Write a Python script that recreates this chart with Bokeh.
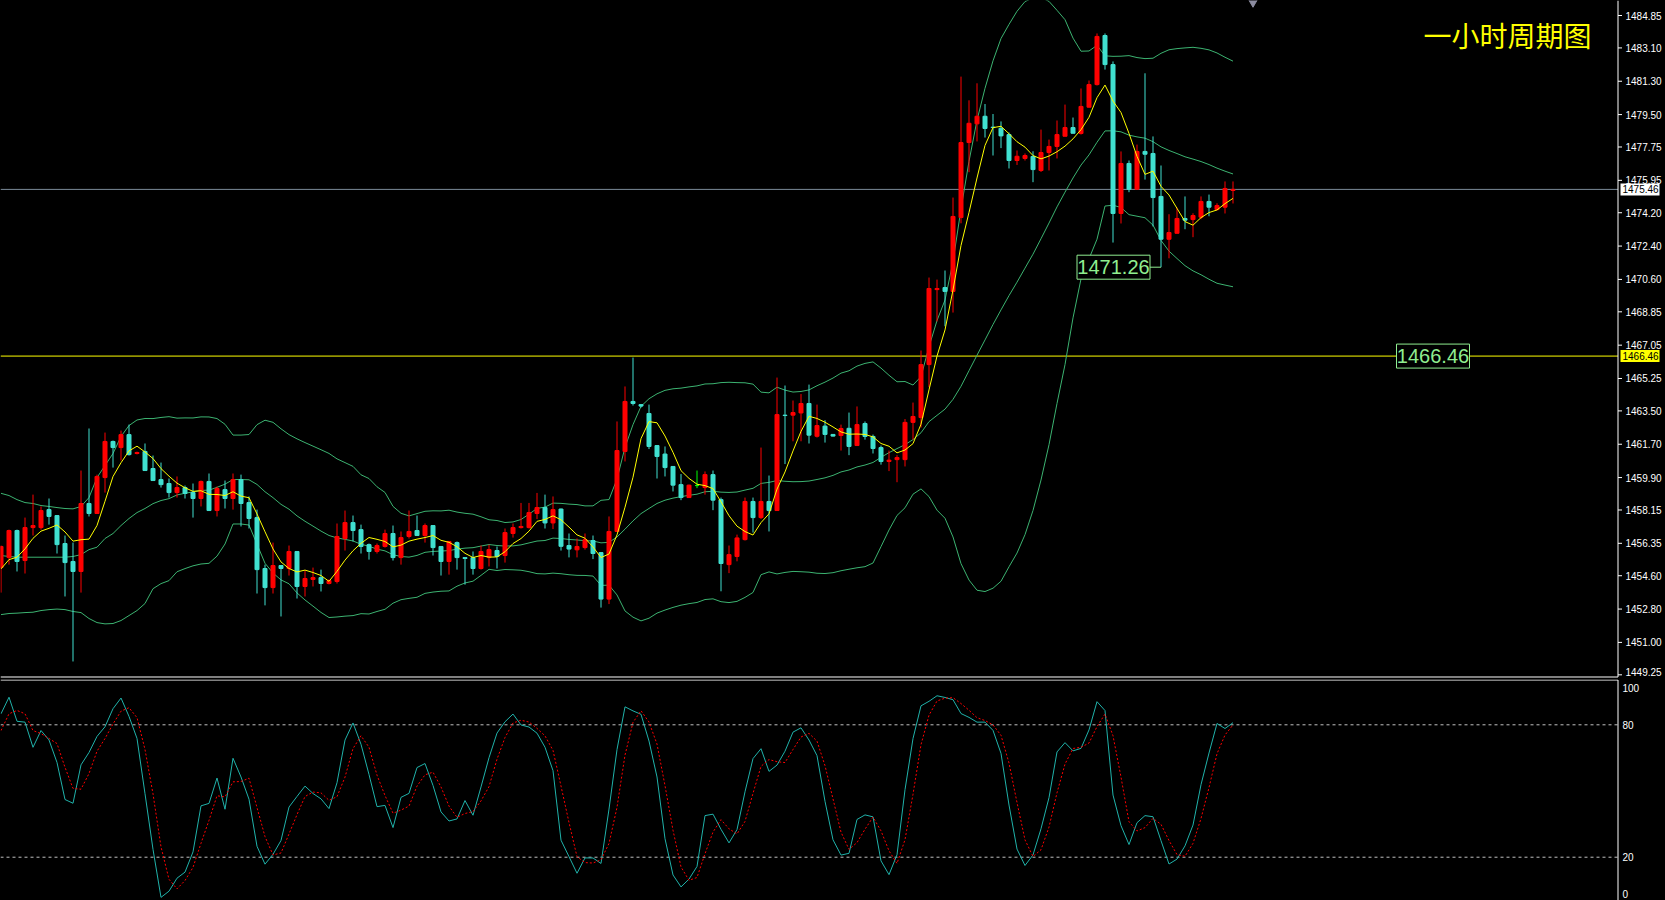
import numpy as np
import pandas as pd
from bokeh.plotting import figure
from bokeh.models import Range1d, Label
from bokeh.layouts import column
from bokeh.embed import file_html
from bokeh.resources import INLINE
from bokeh.core.properties import value

# ---------------- data ----------------
opens = [1455.04, 1455.58, 1457.04, 1455.42, 1457.20, 1457.20, 1458.17, 1457.85, 1456.34, 1455.37,
         1454.83, 1458.50, 1457.96, 1459.90, 1461.85, 1461.52, 1462.22, 1461.20, 1461.31, 1460.39,
         1459.79, 1459.58, 1459.09, 1459.36, 1459.09, 1458.77, 1459.69, 1458.12, 1459.25, 1458.77,
         1459.79, 1458.55, 1457.74, 1454.99, 1453.96, 1455.15, 1454.99, 1455.91, 1454.02, 1454.40,
         1454.50, 1454.18, 1454.29, 1456.61, 1457.47, 1457.09, 1456.28, 1455.91, 1456.18, 1456.88,
         1455.58, 1456.72, 1457.04, 1456.77, 1457.31, 1456.18, 1455.37, 1456.39, 1455.58, 1455.58,
         1454.99, 1455.58, 1455.96, 1455.69, 1456.88, 1457.20, 1457.20, 1457.96, 1458.28, 1457.45,
         1458.20, 1456.23, 1456.00, 1456.12, 1456.50, 1455.85, 1453.34, 1456.99, 1461.31, 1464.01,
         1463.84, 1463.36, 1461.63, 1461.17, 1460.50, 1459.52, 1458.82, 1459.47, 1459.36, 1460.06,
         1458.71, 1455.20, 1455.64, 1456.55, 1458.61, 1457.74, 1458.61, 1458.12, 1463.27, 1463.27,
         1463.39, 1463.90, 1462.13, 1462.68, 1462.23, 1462.17, 1462.56, 1461.63, 1462.82, 1462.12,
         1461.52, 1460.77, 1460.87, 1460.87, 1462.88, 1463.14, 1466.00, 1470.05, 1470.16, 1469.95,
         1473.94, 1477.99, 1479.00, 1479.41, 1478.82, 1478.76, 1478.42, 1477.02, 1477.13, 1477.24,
         1476.48, 1477.45, 1477.78, 1478.33, 1478.80, 1478.48, 1479.90, 1481.12, 1483.77, 1482.20,
         1474.16, 1476.86, 1475.47, 1477.51, 1477.40, 1475.08, 1472.77, 1473.09, 1473.89, 1473.83,
         1473.96, 1474.81, 1474.37, 1474.50, 1475.40]
highs = [1456.23, 1457.09, 1457.09, 1457.74, 1458.98, 1458.34, 1458.77, 1457.85, 1456.77, 1456.39,
         1460.28, 1462.55, 1460.06, 1462.33, 1461.90, 1462.44, 1462.76, 1461.30, 1461.74, 1461.09,
         1460.71, 1459.85, 1459.96, 1459.47, 1459.58, 1459.74, 1460.12, 1459.42, 1459.74, 1460.12,
         1460.06, 1458.88, 1458.17, 1455.20, 1456.39, 1455.15, 1456.23, 1455.91, 1454.88, 1455.04,
         1454.93, 1454.40, 1457.42, 1458.12, 1457.85, 1457.36, 1456.34, 1456.34, 1457.09, 1457.31,
         1456.99, 1458.12, 1457.85, 1457.42, 1457.31, 1456.18, 1456.45, 1456.45, 1455.58, 1455.91,
         1456.23, 1456.28, 1456.18, 1457.15, 1457.42, 1458.53, 1458.53, 1459.07, 1458.98, 1458.88,
         1458.23, 1456.88, 1456.61, 1456.88, 1456.77, 1455.85, 1457.80, 1462.93, 1464.82, 1466.38,
         1463.84, 1463.84, 1461.63, 1461.58, 1460.50, 1460.09, 1459.52, 1460.28, 1460.23, 1460.28,
         1458.82, 1456.23, 1456.82, 1458.82, 1458.82, 1461.52, 1460.01, 1465.30, 1464.87, 1464.06,
         1464.41, 1464.92, 1463.84, 1463.00, 1462.25, 1462.76, 1463.41, 1463.74, 1462.93, 1462.22,
         1461.63, 1461.36, 1461.11, 1463.06, 1463.95, 1466.76, 1470.70, 1470.59, 1471.08, 1475.02,
         1481.55, 1480.27, 1481.19, 1480.07, 1479.53, 1479.13, 1478.53, 1477.56, 1477.40, 1477.52,
         1478.69, 1478.15, 1479.18, 1480.04, 1479.34, 1480.91, 1481.34, 1483.88, 1483.88, 1482.37,
         1477.51, 1477.02, 1477.88, 1481.73, 1478.32, 1476.75, 1474.12, 1474.48, 1475.08, 1474.17,
         1475.08, 1475.18, 1474.71, 1475.89, 1475.89]
lows = [1453.69, 1455.20, 1454.83, 1454.72, 1456.77, 1457.09, 1457.36, 1455.80, 1453.48, 1449.97,
        1453.69, 1457.80, 1457.96, 1459.09, 1460.44, 1460.82, 1461.09, 1461.15, 1460.28, 1459.74,
        1459.36, 1458.82, 1458.82, 1458.77, 1457.74, 1458.34, 1458.12, 1457.80, 1458.23, 1458.17,
        1457.26, 1457.15, 1453.64, 1453.00, 1453.64, 1452.40, 1454.61, 1453.37, 1453.48, 1454.02,
        1453.75, 1454.13, 1454.18, 1455.96, 1456.45, 1455.80, 1455.47, 1455.80, 1456.12, 1455.42,
        1455.20, 1456.61, 1456.77, 1456.39, 1455.69, 1454.61, 1454.66, 1454.93, 1454.12, 1454.66,
        1454.93, 1455.10, 1454.99, 1455.31, 1456.66, 1457.15, 1457.15, 1457.66, 1457.15, 1457.12,
        1455.96, 1455.59, 1455.59, 1456.01, 1455.50, 1452.88, 1453.07, 1456.99, 1460.77, 1463.79,
        1463.68, 1461.44, 1459.85, 1459.96, 1459.15, 1458.68, 1458.82, 1459.33, 1458.98, 1458.14,
        1453.76, 1454.74, 1455.38, 1456.50, 1456.93, 1457.66, 1456.99, 1458.12, 1460.63, 1461.86,
        1461.86, 1461.74, 1462.06, 1461.79, 1462.12, 1461.36, 1461.11, 1461.63, 1461.95, 1461.20,
        1460.60, 1460.25, 1459.65, 1460.50, 1461.95, 1462.60, 1464.78, 1468.33, 1468.07, 1468.81,
        1473.63, 1476.39, 1478.05, 1478.26, 1477.29, 1477.69, 1476.59, 1476.78, 1477.02, 1475.85,
        1476.40, 1476.48, 1477.13, 1478.33, 1478.49, 1478.42, 1479.88, 1481.07, 1481.93, 1472.59,
        1473.62, 1475.31, 1475.47, 1475.99, 1473.46, 1471.26, 1471.74, 1473.08, 1473.31, 1472.88,
        1473.85, 1474.01, 1474.32, 1474.16, 1474.70]
closes = [1456.18, 1457.04, 1455.37, 1457.20, 1457.31, 1458.12, 1457.80, 1456.28, 1455.31, 1454.83,
          1458.50, 1457.96, 1459.96, 1461.85, 1461.52, 1462.22, 1461.14, 1461.25, 1460.28, 1459.74,
          1459.52, 1459.09, 1459.36, 1459.04, 1458.77, 1459.69, 1458.12, 1459.31, 1458.77, 1459.79,
          1458.50, 1457.69, 1454.93, 1453.96, 1455.15, 1454.99, 1455.91, 1454.02, 1454.45, 1454.50,
          1454.18, 1454.34, 1456.72, 1457.47, 1457.04, 1456.18, 1455.91, 1456.23, 1456.88, 1455.58,
          1456.66, 1456.99, 1456.77, 1457.31, 1456.12, 1455.37, 1456.45, 1455.58, 1455.53, 1454.99,
          1455.91, 1456.01, 1455.64, 1456.93, 1457.20, 1457.26, 1458.01, 1458.28, 1457.45, 1458.17,
          1456.19, 1456.04, 1456.18, 1456.55, 1455.80, 1453.34, 1456.99, 1461.36, 1464.01, 1463.90,
          1463.76, 1461.58, 1461.04, 1460.44, 1459.49, 1458.82, 1459.49, 1459.47, 1460.06, 1458.68,
          1455.26, 1455.74, 1456.64, 1458.61, 1457.74, 1458.61, 1458.12, 1463.30, 1463.25, 1463.41,
          1463.90, 1462.19, 1462.71, 1462.23, 1462.14, 1462.55, 1461.58, 1462.76, 1462.12, 1461.47,
          1460.77, 1460.84, 1460.98, 1462.88, 1463.20, 1466.00, 1470.11, 1470.11, 1469.95, 1474.00,
          1477.99, 1479.03, 1479.41, 1478.75, 1478.80, 1478.35, 1477.02, 1477.25, 1477.29, 1476.53,
          1477.45, 1477.78, 1478.42, 1478.80, 1478.49, 1479.94, 1481.12, 1483.72, 1482.20, 1474.16,
          1476.86, 1475.47, 1477.51, 1477.36, 1475.02, 1472.77, 1473.13, 1473.89, 1473.80, 1474.05,
          1474.81, 1474.50, 1474.59, 1475.51, 1475.46]

# indicator values of the first bars (their history lies left of the chart)
ma_head = [1454.97, 1455.47, 1455.60, 1456.05]
bb_up_head = [1459.05, 1458.93, 1458.71, 1458.55, 1458.50, 1458.39, 1458.34, 1458.28, 1458.23, 1458.21,
              1458.34, 1458.82, 1459.90, 1460.55, 1461.20, 1462.12, 1462.71, 1463.01, 1463.09]
bb_mid_head = [1455.69, 1455.64, 1455.60, 1455.60, 1455.60, 1455.60, 1455.60, 1455.60, 1455.60, 1455.64,
               1455.74, 1456.01, 1456.14, 1456.61, 1456.88, 1457.31, 1457.69, 1458.01, 1458.23]
bb_low_head = [1452.50, 1452.56, 1452.58, 1452.61, 1452.63, 1452.72, 1452.77, 1452.80, 1452.77, 1452.67,
               1452.61, 1452.29, 1452.07, 1452.00, 1452.02, 1452.18, 1452.45, 1452.72, 1453.10]
stoch_main_head = [85.0, 92.5, 81.6, 81.2, 69.8, 77.4]
stoch_sig_head = [77.4, 85.0, 86.5, 85.0, 77.4, 76.0, 73.8, 71.5]

price_ticks = [1449.25, 1451.00, 1452.80, 1454.60, 1456.35, 1458.15, 1459.90, 1461.70, 1463.50,
               1465.25, 1467.05, 1468.85, 1470.60, 1472.40, 1474.20, 1475.95, 1477.75, 1479.50,
               1481.30, 1483.10, 1484.85]
stoch_ticks = [0, 20, 80, 100]
stoch_levels = [20, 80]
last_price = 1475.46
level_price = 1466.46
title_text = "一小时周期图"

# ---------------- indicators ----------------
n = len(closes)
idx = np.arange(n)
c = pd.Series(closes, dtype=float)
h = pd.Series(highs, dtype=float)
l = pd.Series(lows, dtype=float)

ma = c.rolling(5).mean().to_numpy()
ma[:len(ma_head)] = ma_head
mid = c.rolling(20).mean()
sd = c.rolling(20).std(ddof=0)
bb_up = (mid + 2 * sd).to_numpy()
bb_lo = (mid - 2 * sd).to_numpy()
bb_mid = mid.to_numpy()
bb_up[:19] = bb_up_head
bb_mid[:19] = bb_mid_head
bb_lo[:19] = bb_low_head

ll = l.rolling(5).min()
hh = h.rolling(5).max()
main = (100 * (c - ll).rolling(3).sum() / (hh - ll).rolling(3).sum()).to_numpy()
main[:len(stoch_main_head)] = stoch_main_head
sig = pd.Series(main).rolling(3).mean().to_numpy()
sig[:len(stoch_sig_head)] = stoch_sig_head

UP = "#FF0000"
DN = "#40E0D0"
DOJI = "#00FF00"
colors = [UP if cc > oo else (DN if cc < oo else DOJI) for oo, cc in zip(opens, closes)]
tops = np.maximum(opens, closes)
bots = np.minimum(opens, closes)

# ---------------- layout constants ----------------
W = 1665
PX = 8.0                      # pixels per bar
x_start = -0.5 / PX
def xpx(px):                  # horizontal pixel -> x data
    return x_start + px / PX
x_range = Range1d(x_start, xpx(W))
AX = xpx(1617.5)              # price-scale line position

H1 = 679
ppx = 1 / 18.52               # price per pixel
y_top = 1485.66
def ypx(py):                  # vertical pixel -> price
    return y_top - py * ppx

AXIS_FONT = value("Liberation Sans")
LBL_FONT = value("Liberation Sans")
GREEN_LBL = "#90EE90"

def make_fig(height, y_range):
    f = figure(width=W, height=height, x_range=x_range, y_range=y_range,
               output_backend="svg", toolbar_location=None,
               x_axis_location=None, y_axis_location=None,
               min_border_left=0, min_border_right=0, min_border_top=0, min_border_bottom=0,
               background_fill_color="black", border_fill_color="black", outline_line_color=None)
    f.grid.visible = False
    return f

p1 = make_fig(H1, Range1d(ypx(H1), y_top))

# horizontal levels (stop at the price scale)
p1.segment(x0=[x_start], y0=[last_price], x1=[AX], y1=[last_price], line_color="#7A8A99", line_width=1)
p1.segment(x0=[x_start], y0=[level_price], x1=[AX], y1=[level_price], line_color="#FFFF00", line_width=1)

# Bollinger bands
p1.line(idx, bb_up, line_color="#3CB371", line_width=1)
p1.line(idx, bb_mid, line_color="#3CB371", line_width=1)
p1.line(idx, bb_lo, line_color="#3CB371", line_width=1)

# candles
p1.segment(x0=idx, y0=lows, x1=idx, y1=highs, line_color=colors, line_width=1)
p1.vbar(x=idx, width=4 / PX, top=tops, bottom=bots, fill_color=colors, line_color=colors, line_width=1)
p1.line(idx, ma, line_color="#FFFF00", line_width=1)

# price scale drawn by hand
sep1 = ypx(676.5)
p1.segment(x0=[x_start], y0=[sep1], x1=[AX], y1=[sep1], line_color="white", line_width=1)
p1.segment(x0=[AX], y0=[sep1], x1=[AX], y1=[y_top], line_color="white", line_width=1)
p1.segment(x0=[AX] * len(price_ticks), y0=price_ticks, x1=[AX + 4 / PX] * len(price_ticks),
           y1=price_ticks, line_color="white", line_width=1)
tick_lbl_y = [t if t > price_ticks[0] else t + 3 * ppx for t in price_ticks]
p1.text(x=[xpx(1625)] * len(price_ticks), y=tick_lbl_y, text=["%.2f" % t for t in price_ticks],
        text_color="white", text_font=AXIS_FONT, text_font_size="10px",
        text_align="left", text_baseline="middle")

# current price and level markers on the scale
for val, bg in ((last_price, "white"), (level_price, "#FFFF00")):
    p1.quad(left=[xpx(1620)], right=[xpx(1659)], top=[val + 6 * ppx], bottom=[val - 6 * ppx],
            fill_color=bg, line_color=None)
    p1.text(x=[xpx(1622)], y=[val], text=["%.2f" % val], text_color="black",
            text_font=AXIS_FONT, text_font_size="10px", text_align="left", text_baseline="middle")

# boxed price labels in the chart
def boxed(fig, right_px_x, val, text):
    right = right_px_x
    left = right - 73 / PX
    fig.quad(left=[left], right=[right], top=[val + 12 * ppx], bottom=[val - 12 * ppx],
             fill_color="black", line_color=GREEN_LBL, line_width=1)
    fig.text(x=[(left + right) / 2], y=[val], text=[text], text_color=GREEN_LBL,
             text_font=LBL_FONT, text_font_size="20px", text_align="center",
             text_baseline="middle")

low_idx = 130 + int(np.argmin(lows[130:]))
low_val = lows[low_idx]
p1.segment(x0=[low_idx - 11 / PX], y0=[low_val], x1=[low_idx], y1=[low_val],
           line_color=GREEN_LBL, line_width=1)
boxed(p1, low_idx - 11 / PX, low_val, "%.2f" % low_val)
boxed(p1, xpx(1469), level_price, "%.2f" % level_price)

# title
p1.add_layout(Label(x=xpx(1423), y=ypx(14), text=title_text,
                    text_align="left", text_baseline="top", text_color="#FFFF00",
                    text_font="Noto Sans CJK SC", text_font_size="28px"))
p1.scatter(x=[n + 1.5], y=[ypx(1)], marker="inverted_triangle", size=10,
           fill_color="#8C8CA0", line_color="#8C8CA0")

# ---------------- stochastic pane ----------------
H2 = 900 - H1
s_lo, s_hi = 0.38, 100.53
p2 = make_fig(H2, Range1d(s_lo, s_hi))
spx = (s_hi - s_lo) / H2
for lv in stoch_levels:
    p2.segment(x0=[x_start], y0=[lv], x1=[AX], y1=[lv], line_color="#C0C0C0",
               line_width=1, line_dash="3 3")
sep2 = s_hi - 0.5 * spx
p2.segment(x0=[x_start], y0=[sep2], x1=[AX], y1=[sep2], line_color="white", line_width=1)
p2.segment(x0=[AX], y0=[s_lo], x1=[AX], y1=[sep2], line_color="white", line_width=1)
s_lbl_y = [t - 7 * spx if t == max(stoch_ticks) else (t + 7 * spx if t == min(stoch_ticks) else t)
           for t in stoch_ticks]
p2.text(x=[xpx(1622)] * len(stoch_ticks), y=s_lbl_y, text=[str(t) for t in stoch_ticks],
        text_color="white", text_font=AXIS_FONT, text_font_size="10px",
        text_align="left", text_baseline="middle")
p2.line(idx, main, line_color="#20B2AA", line_width=1)
p2.line(idx, sig, line_color="#FF0000", line_width=1, line_dash="2 2")

layout = column(p1, p2, spacing=0)
layout.background = "black"
open("out.html", "w").write(file_html(layout, INLINE))
